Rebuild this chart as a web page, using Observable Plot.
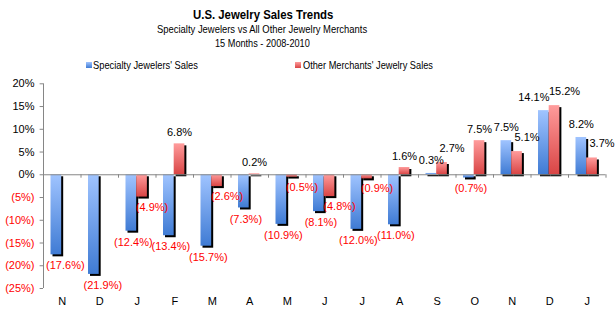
<!DOCTYPE html>
<html>
<head>
<meta charset="utf-8">
<script src="https://cdn.jsdelivr.net/npm/d3@7"></script>
<script src="https://cdn.jsdelivr.net/npm/@observablehq/plot@0.6"></script>
<style>
  body { margin: 0; background: #fff; }
  #wrap { position: relative; width: 616px; height: 322px; overflow: hidden; font-family: "Liberation Sans", Arial, sans-serif; }
  .narrow { font-family: "Liberation Sans Narrow", "Arial Narrow", "Liberation Sans", Arial, sans-serif; }
  .t { position: absolute; white-space: nowrap; line-height: 1; color: #000; transform-origin: 0 0; }
  .leg { position: absolute; white-space: nowrap; line-height: 1; font-size: 11px; }
  .sw { position: absolute; width: 6px; height: 6px; }
  .lt { position: absolute; transform-origin: 0 0; }
  #chart { position: absolute; left: 0; top: 0; }
</style>
</head>
<body>
<div id="wrap">
  <div id="chart"></div>
  <div class="t narrow" data-cx="263" data-cy="14" data-w="140" style="font-size:13px; font-weight:bold;">U.S. Jewelry Sales Trends</div>
  <div class="t narrow" data-cx="262" data-cy="29" data-w="210" style="font-size:11px;">Specialty Jewelers vs All Other Jewelry Merchants</div>
  <div class="t narrow" data-cx="262.5" data-cy="43.5" data-w="95" style="font-size:11px;">15 Months - 2008-2010</div>
  <div class="leg">
    <span class="sw" style="left:86px; top:62px; background:linear-gradient(#a0c4ff,#3f7bd4)"></span>
    <span class="t narrow" data-lx="93" data-cy="65" data-w="105" style="font-size:11px;">Specialty Jewelers' Sales</span>
    <span class="sw" style="left:295px; top:62px; background:linear-gradient(#ff9c9c,#d94545)"></span>
    <span class="t narrow" data-lx="303" data-cy="65" data-w="130" style="font-size:11px;">Other Merchants' Jewelry Sales</span>
  </div>
</div>
<script>
const months = ["N","D","J","F","M","A","M","J","J","A","S","O","N","D","J"];
const specialty = [-17.6,-21.9,-12.4,-13.4,-15.7,-7.3,-10.9,-8.1,-12.0,-11.0,0.3,-0.7,7.5,14.1,8.2];
const others = [null,null,-4.9,6.8,-2.6,0.2,-0.5,-4.8,-0.9,1.6,2.7,7.5,5.1,15.2,3.7];
const yTicks = [20,15,10,5,0,-5,-10,-15,-20,-25];

const fmt = v => v < 0 ? `(${Math.abs(v).toFixed(1)}%)` : `${v.toFixed(1)}%`;
const tickFmt = v => v < 0 ? `(${-v}%)` : `${v}%`;

const blue = specialty.map((v, i) => ({i, v, s: "b", other: others[i], a: 0.2, b: 0.485}));
const red = others.map((v, i) => ({i, v, s: "r", other: specialty[i], a: 0.485, b: 0.77})).filter(d => d.v !== null);

// label placement rules (Excel-like, nudged apart where neighbours collide)
function offset(d) {
  const bothPos = d.v >= 0 && d.other !== null && d.other >= 0;
  if (d.v >= 0) {
    if (d.s === "b") return [bothPos && Math.abs(d.v - d.other) < 2 ? -10 : 0, bothPos ? -13 : -11];
    return [bothPos ? 10 : 0, bothPos ? -14 : -11];
  }
  if (d.s === "b") return [d.other === null ? 9 : 2, 11];
  return [10, 10];
}

const bars = (data, fill) => [
  Plot.rectY(data, {x1: d => d.i + d.a, x2: d => d.i + d.b, y1: 0, y2: "v", fill: "#000", dx: 2, dy: 2}),
  Plot.rectY(data, {x1: d => d.i + d.a, x2: d => d.i + d.b, y1: 0, y2: "v", fill})
];
function labels(data) {
  const groups = d3.group(data, d => offset(d).join(","));
  return Array.from(groups, ([key, g]) => {
    const [dx, dy] = key.split(",").map(Number);
    return Plot.text(g, {x: d => d.i + (d.a + d.b) / 2, y: "v", text: d => fmt(d.v), dx, dy,
      fill: g[0].v < 0 ? "#ff0000" : "#000"});
  });
}

const chart = Plot.plot({
  width: 616,
  height: 322,
  marginLeft: 43,
  marginRight: 10.5,
  marginTop: 83.3,
  marginBottom: 34,
  style: {fontFamily: "'Liberation Sans', Arial, sans-serif", fontSize: "11px", background: "transparent"},
  x: {type: "linear", domain: [0, 15], axis: null},
  y: {domain: [-25, 20], axis: null},
  marks: [
    ...bars(blue, "url(#gBlue)"),
    ...bars(red, "url(#gRed)"),
    Plot.ruleX([0], {stroke: "#868686"}),
    Plot.ruleY([0], {stroke: "#868686"}),
    Plot.ruleX(d3.range(16), {x: d => d, y1: 0, y2: -0.75, stroke: "#868686"}),
    Plot.ruleY(yTicks, {y: d => d, x1: 0, x2: -0.09, stroke: "#868686"}),
    Plot.text(yTicks.filter(d => d >= 0), {y: d => d, frameAnchor: "left", dx: -9, textAnchor: "end", text: tickFmt, fill: "#000"}),
    Plot.text(yTicks.filter(d => d < 0), {y: d => d, frameAnchor: "left", dx: -9, textAnchor: "end", text: tickFmt, fill: "#ff0000"}),
    ...labels(blue.filter(d => d.v >= 0)),
    ...labels(blue.filter(d => d.v < 0)),
    ...labels(red.filter(d => d.v >= 0)),
    ...labels(red.filter(d => d.v < 0)),
    Plot.text(months, {x: (d, i) => i + 0.5, frameAnchor: "bottom", dy: 16, text: d => d, fill: "#000"})
  ]
});

const defs = d3.select(chart).insert("defs", ":first-child");
const g1 = defs.append("linearGradient").attr("id", "gBlue").attr("x1", 0).attr("y1", 0).attr("x2", 0).attr("y2", 1);
g1.append("stop").attr("offset", "0%").attr("stop-color", "#a0c4ff");
g1.append("stop").attr("offset", "100%").attr("stop-color", "#3f7bd4");
const g2 = defs.append("linearGradient").attr("id", "gRed").attr("x1", 0).attr("y1", 0).attr("x2", 0).attr("y2", 1);
g2.append("stop").attr("offset", "0%").attr("stop-color", "#ff9c9c");
g2.append("stop").attr("offset", "100%").attr("stop-color", "#d94545");

document.getElementById("chart").appendChild(chart);

// fit the condensed header texts to the reference widths
document.querySelectorAll(".t").forEach(el => {
  const w = el.offsetWidth, h = el.offsetHeight;
  const s = +el.dataset.w / w;
  const cy = +el.dataset.cy;
  const left = el.dataset.cx !== undefined ? +el.dataset.cx - w * s / 2 : +el.dataset.lx;
  el.style.left = left + "px";
  el.style.top = (cy - h / 2) + "px";
  el.style.transform = `scaleX(${s})`;
});
</script>
</body>
</html>
